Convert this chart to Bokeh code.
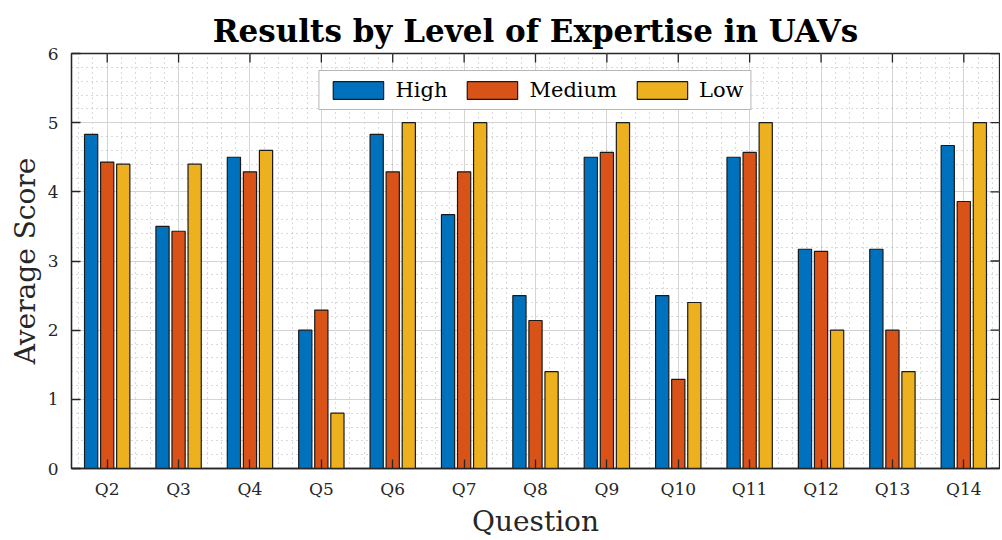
from bokeh.plotting import figure
from bokeh.models import ColumnDataSource, Range1d, FixedTicker, LinearAxis, Legend
from bokeh.transform import dodge
from bokeh.embed import file_html
from bokeh.resources import INLINE
import math

# ---- data ----
questions = ["Q2", "Q3", "Q4", "Q5", "Q6", "Q7", "Q8", "Q9", "Q10", "Q11", "Q12", "Q13", "Q14"]
q_pos = [2, 3, 4, 5, 6, 7, 8, 9, 10, 11, 12, 13, 14]
high = [4.83, 3.50, 4.50, 2.00, 4.83, 3.67, 2.50, 4.50, 2.50, 4.50, 3.17, 3.17, 4.67]
medium = [4.43, 3.43, 4.29, 2.29, 4.29, 4.29, 2.14, 4.57, 1.29, 4.57, 3.14, 2.00, 3.86]
low = [4.40, 4.40, 4.60, 0.80, 5.00, 5.00, 1.40, 5.00, 2.40, 5.00, 2.00, 1.40, 5.00]
y_ticks = [0, 1, 2, 3, 4, 5, 6]

src = ColumnDataSource(dict(q=q_pos, high=high, medium=medium, low=low))

FONT = "DejaVu Serif"
DARK = "#262626"
X0, X1 = 1.5, 14.5
Y0, Y1 = y_ticks[0], y_ticks[-1]

p = figure(width=1000, height=540, output_backend="svg", toolbar_location=None,
           x_range=Range1d(X0, X1), y_range=Range1d(Y0, Y1),
           min_border_left=71, min_border_right=1, min_border_top=53, min_border_bottom=62,
           x_axis_location=None, y_axis_location=None)

p.title.text = "Results by Level of Expertise in UAVs"
p.title.text_font = FONT
p.title.text_font_size = "31px"
p.title.text_font_style = "bold"
p.title.text_color = "#000000"
p.title.align = "center"
p.title.standoff = 9
p.title.offset = 4

minor_x = [q + d for q in [1] + q_pos for d in (0.2, 0.4, 0.6, 0.8)]
xticker = FixedTicker(ticks=q_pos, minor_ticks=minor_x)
yticker = FixedTicker(ticks=y_ticks, minor_ticks=[t + d for t in y_ticks[:-1] for d in (0.2, 0.4, 0.6, 0.8)])

def style_axis(ax):
    ax.axis_line_color = DARK
    ax.axis_line_width = 1.3
    ax.major_tick_in = 9
    ax.major_tick_out = 0
    ax.major_tick_line_color = DARK
    ax.major_tick_line_width = 1.3
    ax.minor_tick_line_color = None
    ax.major_label_text_font = FONT
    ax.major_label_text_font_size = "17px"
    ax.major_label_text_color = DARK
    ax.axis_label_text_font = FONT
    ax.axis_label_text_font_size = "28px"
    ax.axis_label_text_font_style = "normal"
    ax.axis_label_text_color = DARK

xb = LinearAxis(ticker=xticker, axis_label="Question",
                major_label_overrides={q: lab for q, lab in zip(q_pos, questions)})
style_axis(xb)
xb.major_label_standoff = 6
xb.axis_label_standoff = 3
p.add_layout(xb, "below")

yl = LinearAxis(ticker=yticker, axis_label="Average Score")
style_axis(yl)
yl.major_label_standoff = 9
yl.axis_label_standoff = 3
p.add_layout(yl, "left")

# box ticks on top and right edges (MATLAB-style), half of each dash lies inside the frame
p.scatter(x=q_pos, y=[Y1] * len(q_pos), marker="dash", angle=math.pi / 2, size=18,
          line_color=DARK, line_width=1.3)
p.scatter(x=[X1] * len(y_ticks), y=y_ticks, marker="dash", size=18,
          line_color=DARK, line_width=1.3)

p.xgrid.ticker = xticker
p.ygrid.ticker = yticker
for g in (p.xgrid, p.ygrid):
    g.grid_line_color = "#d4d4d4"
    g.grid_line_width = 1
    g.minor_grid_line_color = "#a0a0a0"
    g.minor_grid_line_dash = "1 4"
    g.minor_grid_line_alpha = 0.8

p.outline_line_color = DARK
p.outline_line_width = 1.3
p.background_fill_color = "white"

bw = 0.185
off = 0.225
r1 = p.vbar(x=dodge("q", -off, range=p.x_range), top="high", width=bw, source=src,
            fill_color="#0072BD", line_color="#1a1a1a", line_width=1.2)
r2 = p.vbar(x=dodge("q", 0, range=p.x_range), top="medium", width=bw, source=src,
            fill_color="#D95319", line_color="#1a1a1a", line_width=1.2)
r3 = p.vbar(x=dodge("q", off, range=p.x_range), top="low", width=bw, source=src,
            fill_color="#EDB120", line_color="#1a1a1a", line_width=1.2)

legend = Legend(items=[("High", [r1]), ("Medium", [r2]), ("Low", [r3])],
                orientation="horizontal", location="top_center")
legend.label_text_font = FONT
legend.label_text_font_size = "21px"
legend.label_text_color = "#000000"
legend.glyph_width = 63
legend.glyph_height = 22
legend.label_standoff = 6
legend.spacing = 13
legend.padding = 7
legend.margin = 17
legend.border_line_color = "#707070"
legend.border_line_width = 1.5
legend.background_fill_color = "white"
legend.background_fill_alpha = 1.0
p.add_layout(legend, "center")

open("out.html", "w").write(file_html(p, INLINE))
